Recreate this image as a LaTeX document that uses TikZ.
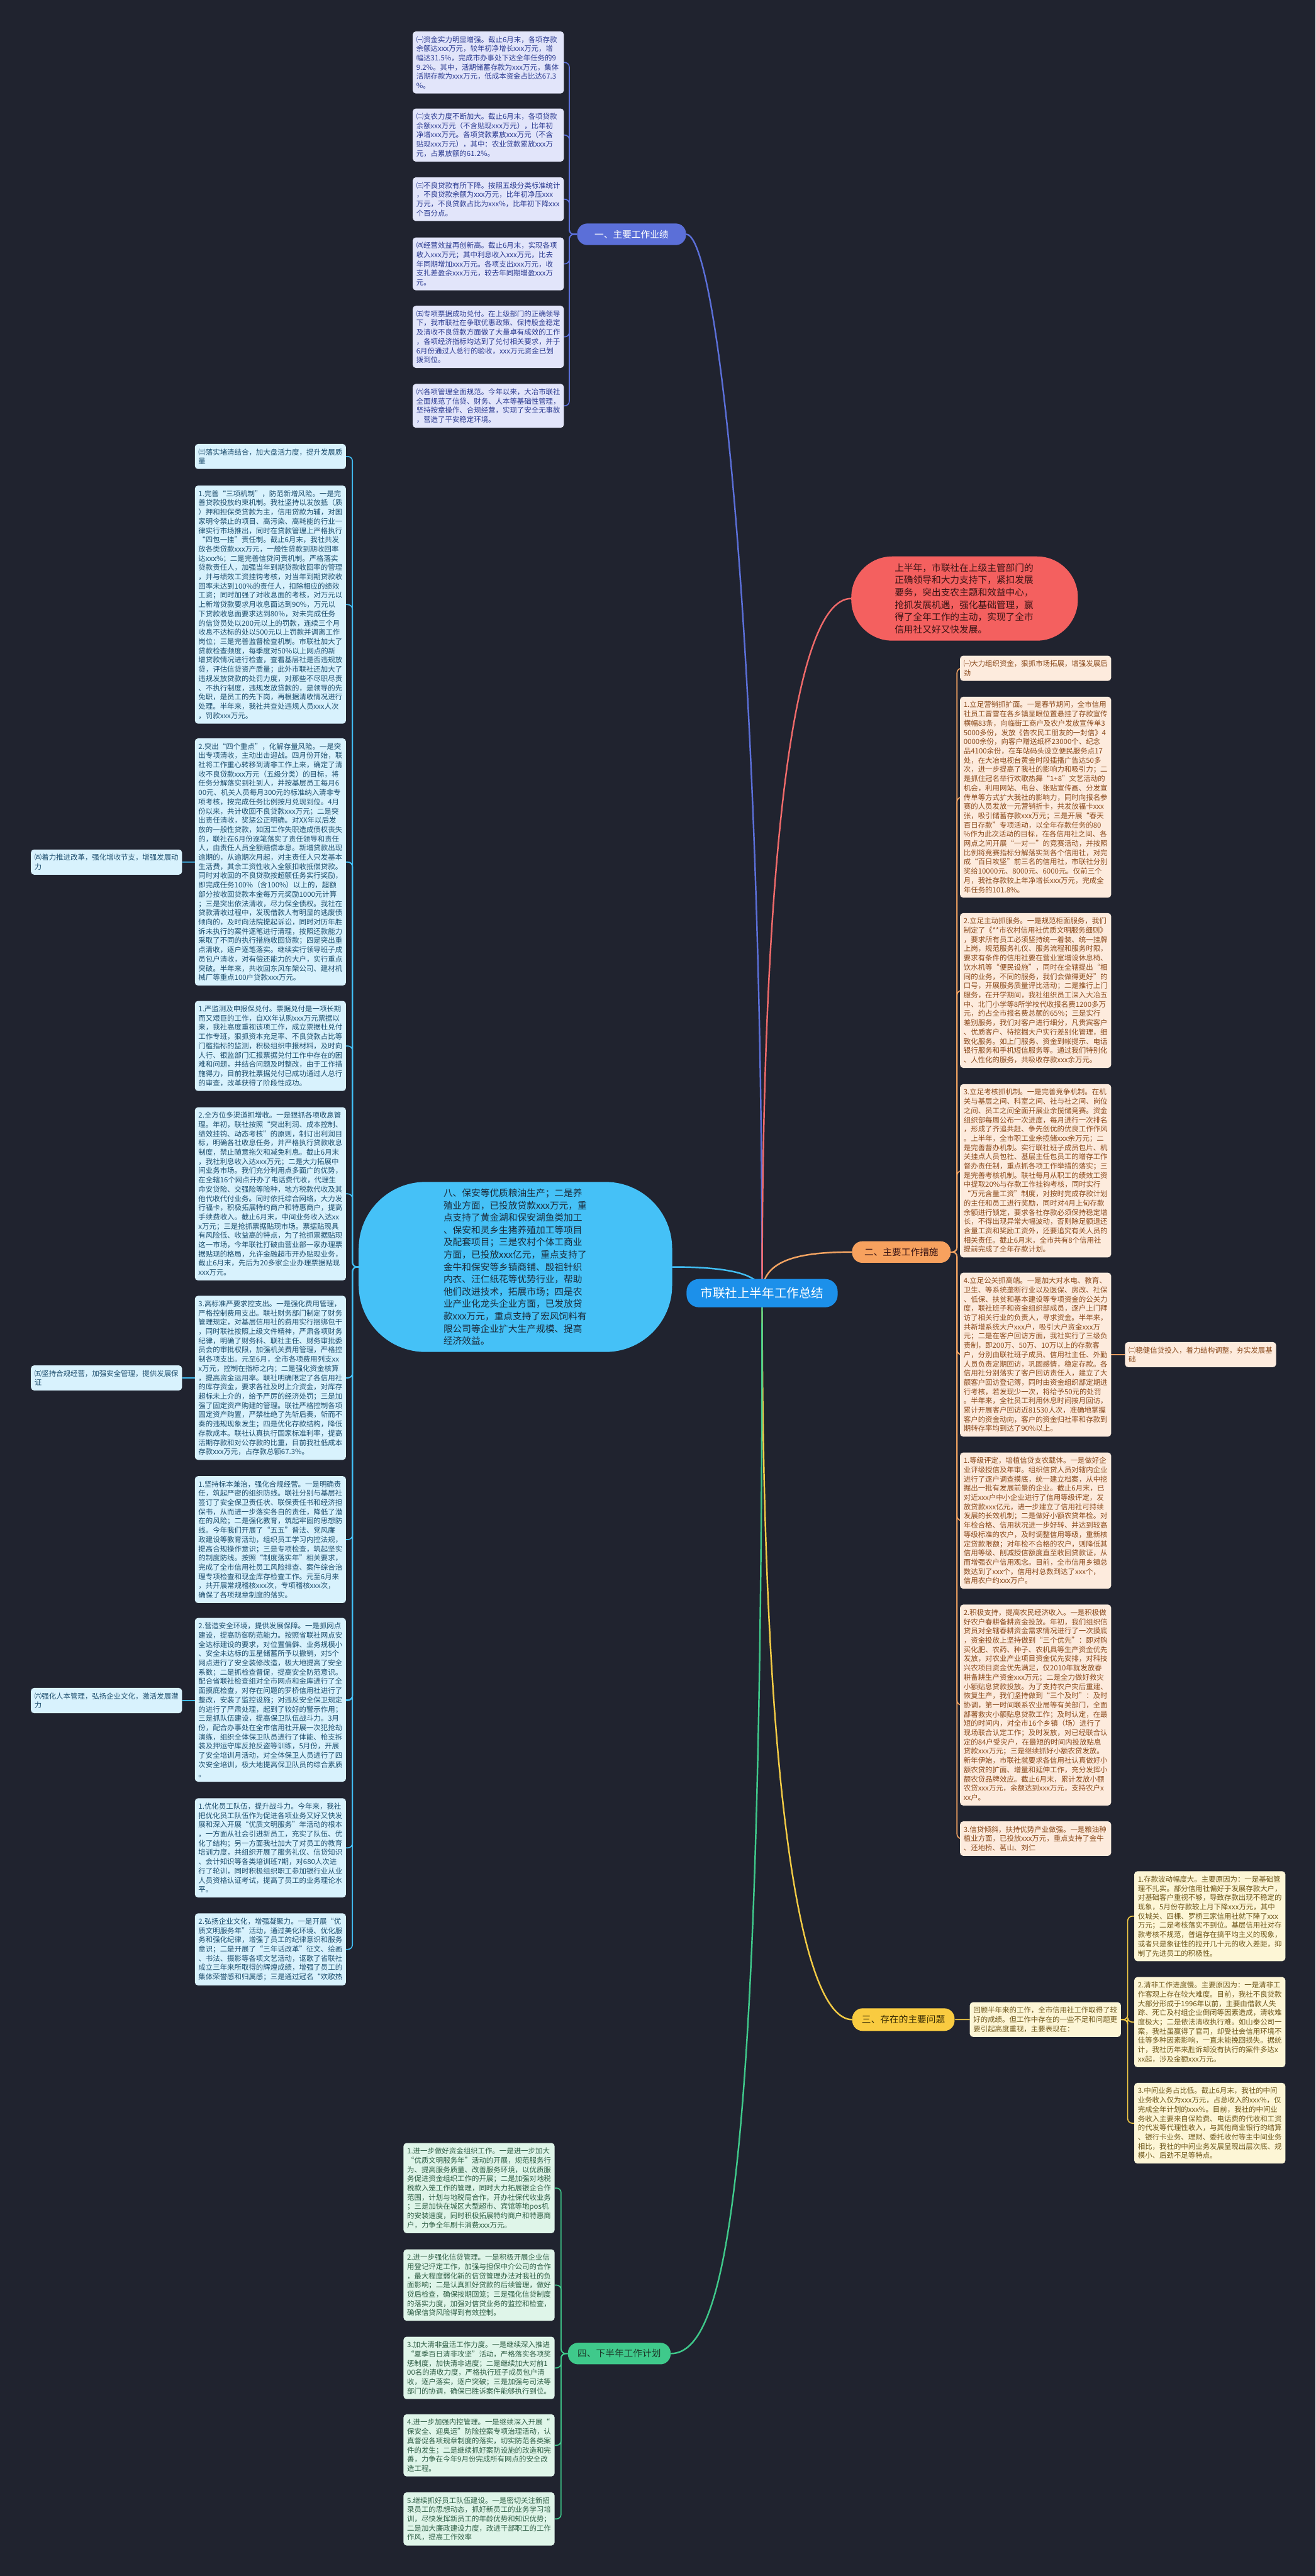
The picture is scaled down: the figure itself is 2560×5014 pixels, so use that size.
\documentclass[tikz,border=0pt]{standalone}
\usepackage{fontspec}
\setmainfont{Noto Sans CJK SC}
\pgfdeclarelayer{back}
\pgfdeclarelayer{bg}
\pgfsetlayers{back,bg,main}
\definecolor{bgc}{HTML}{20232F}
\definecolor{rootc}{HTML}{1C90EA}
\definecolor{pline}{HTML}{5B6FD8}
\definecolor{pfill}{HTML}{E2E5FA}
\definecolor{ptext}{HTML}{2A3990}
\definecolor{rline}{HTML}{F06A6A}
\definecolor{pinkc}{HTML}{F4605F}
\definecolor{pinkt}{HTML}{3A1414}
\definecolor{oline}{HTML}{F4A462}
\definecolor{obr}{HTML}{F7A15E}
\definecolor{ofill}{HTML}{FDEBDD}
\definecolor{otext}{HTML}{8A4A1C}
\definecolor{bline}{HTML}{41BEF4}
\definecolor{ellc}{HTML}{45C1F7}
\definecolor{ellt}{HTML}{1B2B3B}
\definecolor{lfill}{HTML}{D8F2FD}
\definecolor{ltext}{HTML}{1D4E6E}
\definecolor{yline}{HTML}{F3CB45}
\definecolor{ybr}{HTML}{F9CB40}
\definecolor{ybrt}{HTML}{3B2E05}
\definecolor{yfill}{HTML}{FDF6D6}
\definecolor{ytext}{HTML}{6E561A}
\definecolor{gline}{HTML}{3FC98B}
\definecolor{gbr}{HTML}{3FC98B}
\definecolor{gbrt}{HTML}{1D3A2A}
\definecolor{gfill}{HTML}{DFF5E9}
\definecolor{gtext}{HTML}{2F5E45}
\tikzset{
  base/.style={font=\fontsize{14}{18}\selectfont, align=left, text width=280pt, inner xsep=7pt, inner ysep=9pt, rounded corners=6pt, anchor=north west},
  pbox/.style={base, fill=pfill, text=ptext},
  lbox/.style={base, fill=lfill, text=ltext},
  obox/.style={base, fill=ofill, text=otext},
  ybox/.style={base, fill=yfill, text=ytext},
  gbox/.style={base, fill=gfill, text=gtext},
  branch/.style={font=\fontsize{18}{22}\selectfont, rounded corners=20pt, minimum height=42pt, inner xsep=12pt, anchor=center},
  rootcurve/.style={line width=3pt},
  pconn/.style={draw=pline, line width=2pt, rounded corners=9pt},
  lconn/.style={draw=bline, line width=2pt, rounded corners=9pt},
  oconn/.style={draw=oline, line width=2pt, rounded corners=9pt},
  yconn/.style={draw=yline, line width=2pt, rounded corners=9pt},
  gconn/.style={draw=gline, line width=2pt, rounded corners=9pt}
}
\begin{document}
\begin{tikzpicture}[x=1pt,y=-1pt]
\useasboundingbox (0,0) rectangle (2560,5014);
\begin{pgfonlayer}{back}
\fill[bgc] (0,0) rectangle (2560,5014);
\end{pgfonlayer}

% root and main branches
\node[fill=rootc, text=white, font=\fontsize{24}{28}\selectfont, rounded corners=24pt, minimum width=294pt, minimum height=55pt] (root) at (1483,2517) {市联社上半年工作总结};
\node[branch, fill=pline, text=white, minimum width=212pt] (b1) at (1229,456) {一、主要工作业绩};
\node[branch, fill=obr, text=pinkt, minimum width=192pt] (b2) at (1754,2437) {二、主要工作措施};
\node[branch, fill=ybr, text=ybrt, minimum width=199pt, minimum height=44pt] (b3) at (1758,3931) {三、存在的主要问题};
\node[branch, fill=gbr, text=gbrt, minimum width=200pt] (b4) at (1205,4581) {四、下半年工作计划};
\node[fill=pinkc, text=pinkt, font=\fontsize{18}{24}\selectfont, align=left, text width=272pt, rounded corners=80pt, minimum width=441pt, minimum height=164pt] (pink) at (1877,1165) {上半年，市联社在上级主管部门的\\正确领导和大力支持下，紧扣发展\\要务，突出支农主题和效益中心，\\抢抓发展机遇，强化基础管理，赢\\得了全年工作的主动，实现了全市\\信用社又好又快发展。};
\node[fill=ellc, text=ellt, font=\fontsize{18}{24}\selectfont, align=left, text width=280pt, rounded corners=130pt, minimum width=610pt, minimum height=331pt] (ell) at (1003,2466) {八、保安等优质粮油生产；二是养\\殖业方面，已投放贷款xxx万元，重\\点支持了黄金湖和保安湖鱼类加工\\、保安和灵乡生猪养殖加工等项目\\及配套项目；三是农村个体工商业\\方面，已投放xxx亿元，重点支持了\\金牛和保安等乡镇商铺、殷祖针织\\内衣、汪仁纸花等优势行业，帮助\\他们改进技术，拓展市场；四是农\\业产业化龙头企业方面，已发放贷\\款xxx万元，重点支持了宏风饲料有\\限公司等企业扩大生产规模、提高\\经济效益。};

% branch 1 boxes
\node[pbox] (P1) at (803,61) {㈠资金实力明显增强。截止6月末，各项存款\\余额达xxx万元，较年初净增长xxx万元，增\\幅达31.5\%，完成市办事处下达全年任务的9\\9.2\%。其中，活期储蓄存款为xxx万元，集体\\活期存款为xxx万元，低成本资金占比达67.3\\\%。};
\node[pbox] (P2) at (803,211) {㈡支农力度不断加大。截止6月末，各项贷款\\余额xxx万元（不含贴现xxx万元），比年初\\净增xxx万元。各项贷款累放xxx万元（不含\\贴现xxx万元），其中：农业贷款累放xxx万\\元，占累放额的61.2\%。};
\node[pbox] (P3) at (803,345) {㈢不良贷款有所下降。按照五级分类标准统计\\，不良贷款余额为xxx万元，比年初净压xxx\\万元，不良贷款占比为xxx\%，比年初下降xxx\\个百分点。};
\node[pbox] (P4) at (803,462) {㈣经营效益再创新高。截止6月末，实现各项\\收入xxx万元；其中利息收入xxx万元，比去\\年同期增加xxx万元。各项支出xxx万元，收\\支扎差盈余xxx万元，较去年同期增盈xxx万\\元。};
\node[pbox] (P5) at (803,595) {㈤专项票据成功兑付。在上级部门的正确领导\\下，我市联社在争取优惠政策、保持股金稳定\\及清收不良贷款方面做了大量卓有成效的工作\\，各项经济指标均达到了兑付相关要求，并于\\6月份通过人总行的验收，xxx万元资金已划\\拨到位。};
\node[pbox] (P6) at (803,747) {㈥各项管理全面规范。今年以来，大冶市联社\\全面规范了信贷、财务、人本等基础性管理，\\坚持按章操作、合规经营，实现了安全无事故\\，营造了平安稳定环境。};

% left column boxes
\node[lbox] (L0) at (379,864) {㈢落实堵清结合，加大盘活力度，提升发展质\\量};
\node[lbox] (L1) at (379,945) {1.完善“三项机制”，防范新增风险。一是完\\善贷款投放约束机制。我社坚持以发放抵（质\\）押和担保类贷款为主，信用贷款为辅，对国\\家明令禁止的项目、高污染、高耗能的行业一\\律实行市场推出，同时在贷款管理上严格执行\\“四包一挂”责任制。截止6月末，我社共发\\放各类贷款xxx万元，一般性贷款到期收回率\\达xxx\%；二是完善信贷问责机制。严格落实\\贷款责任人，加强当年到期贷款收回率的管理\\，并与绩效工资挂钩考核，对当年到期贷款收\\回率未达到100\%的责任人，扣除相应的绩效\\工资；同时加强了对收息面的考核，对万元以\\上新增贷款要求月收息面达到90\%，万元以\\下贷款收息面要求达到80\%，对未完成任务\\的信贷员处以200元以上的罚款，连续三个月\\收息不达标的处以500元以上罚款并调离工作\\岗位；三是完善监督检查机制。市联社加大了\\贷款检查频度，每季度对50\%以上网点的新\\增贷款情况进行检查，查看基层社是否违规放\\贷，评估信贷资产质量；此外市联社还加大了\\违规发放贷款的处罚力度，对那些不尽职尽责\\、不执行制度，违规发放贷款的，是领导的先\\免职，是员工的先下岗，再根据清收情况进行\\处理。半年来，我社共查处违规人员xxx人次\\，罚款xxx万元。};
\node[lbox] (L2) at (379,1437) {2.突出“四个重点”，化解存量风险。一是突\\出专项清收，主动出击迎战。四月份开始，联\\社将工作重心转移到清非工作上来，确定了清\\收不良贷款xxx万元（五级分类）的目标，将\\任务分解落实到社到人，并按基层员工每月6\\00元、机关人员每月300元的标准纳入清非专\\项考核，按完成任务比例按月兑现到位。4月\\份以来，共计收回不良贷款xxx万元；二是突\\出责任清收，奖惩公正明确。对XX年以后发\\放的一般性贷款，如因工作失职造成债权丧失\\的，联社在6月份逐笔落实了责任领导和责任\\人，由责任人员全额赔偿本息。新增贷款出现\\逾期的，从逾期次月起，对主责任人只发基本\\生活费，其余工资性收入全额扣收抵偿贷款。\\同时对收回的不良贷款按超额任务实行奖励，\\即完成任务100\%（含100\%）以上的，超额\\部分按收回贷款本金每万元奖励1000元计算\\；三是突出依法清收，尽力保全债权。我社在\\贷款清收过程中，发现借款人有明显的逃废债\\倾向的，及时向法院提起诉讼，同时对历年胜\\诉未执行的案件逐笔进行清理，按照还款能力\\采取了不同的执行措施收回贷款；四是突出重\\点清收，逐户逐笔落实。继续实行领导班子成\\员包户清收，对有偿还能力的大户，实行重点\\突破。半年来，共收回东风车架公司、建材机\\械厂等重点100户贷款xxx万元。};
\node[lbox, anchor=west] (lab4) at (60,1678) {㈣着力推进改革，强化增收节支，增强发展动\\力};
\node[lbox] (L3) at (379,1948) {1.严监测及申报保兑付。票据兑付是一项长期\\而又艰巨的工作，自XX年认购xxx万元票据以\\来，我社高度重视该项工作，成立票据杜兑付\\工作专班，狠抓资本充足率、不良贷款占比等\\门槛指标的监测，积极组织申报材料，及时向\\人行、银监部门汇报票据兑付工作中存在的困\\难和问题，并结合问题及时整改，由于工作措\\施得力，目前我社票据兑付已成功通过人总行\\的审查，改革获得了阶段性成功。};
\node[lbox] (L4) at (379,2155) {2.全方位多渠道抓增收。一是狠抓各项收息管\\理。年初，联社按照“突出利润、成本控制、\\绩效挂钩、动态考核”的原则，制订出利润目\\标，明确各社收息任务，并严格执行贷款收息\\制度，禁止随意拖欠和减免利息。截止6月末\\，我社利息收入达xxx万元；二是大力拓展中\\间业务市场。我们充分利用点多面广的优势，\\在全辖16个网点开办了电话费代收，代理生\\命安贷险、交强险等险种，地方税款代收及其\\他代收代付业务。同时依托综合网络，大力发\\行福卡，积极拓展特约商户和特惠商户，提高\\手续费收入。截止6月末，中间业务收入达xx\\x万元；三是抢抓票据贴现市场。票据贴现具\\有风险低、收益高的特点，为了抢抓票据贴现\\这一市场，今年联社打破由营业部一家办理票\\据贴现的格局，允许金融超市开办贴现业务，\\截止6月末，先后为20多家企业办理票据贴现\\xxx万元。};
\node[lbox] (L5) at (379,2522) {3.高标准严要求控支出。一是强化费用管理，\\严格控制费用支出。联社财务部门制定了财务\\管理规定，对基层信用社的费用实行捆绑包干\\，同时联社按照上级文件精神，严肃各项财务\\纪律，明确了财务科、联社主任、财务审批委\\员会的审批权限，加强机关费用管理，严格控\\制各项支出。元至6月，全市各项费用列支xx\\x万元，控制在指标之内；二是强化资金核算\\，提高资金运用率。联社明确限定了各信用社\\的库存资金，要求各社及时上介资金，对库存\\超标未上介的，给予严厉的经济处罚；三是加\\强了固定资产购建的管理。联社严格控制各项\\固定资产购置，严禁杜绝了先斩后奏，斩而不\\奏的违规现象发生；四是优化存款结构，降低\\存款成本。联社认真执行国家标准利率，提高\\活期存款和对公存款的比重，目前我社低成本\\存款xxx万元，占存款总额67.3\%。};
\node[lbox, anchor=west] (lab5) at (60,2682) {㈤坚持合规经营，加强安全管理，提供发展保\\证};
\node[lbox] (L6) at (379,2873) {1.坚持标本兼治，强化合规经营。一是明确责\\任，筑起严密的组织防线。联社分别与基层社\\签订了安全保卫责任状、联保责任书和经济担\\保书，从而进一步落实各自的责任，降低了潜\\在的风险；二是强化教育，筑起牢固的思想防\\线。今年我们开展了“五五”普法、党风廉\\政建设等教育活动，组织员工学习内控法规，\\提高合规操作意识；三是专项检查，筑起坚实\\的制度防线。按照“制度落实年”相关要求，\\完成了全市信用社员工风险排查、案件综合治\\理专项检查和现金库存检查工作。元至6月来\\，共开展常规稽核xxx次，专项稽核xxx次，\\确保了各项规章制度的落实。};
\node[lbox] (L7) at (379,3149) {2.营造安全环境，提供发展保障。一是抓网点\\建设，提高防御防范能力。按照省联社网点安\\全达标建设的要求，对位置偏僻、业务规模小\\、安全未达标的五星储蓄所予以撤销，对5个\\网点进行了安全装修改造，极大地提高了安全\\系数；二是抓检查督促，提高安全防范意识。\\配合省联社检查组对全市网点和金库进行了全\\面摸底检查，对存在问题的罗桥信用社进行了\\整改，安装了监控设施；对违反安全保卫规定\\的进行了严肃处理，起到了较好的警示作用；\\三是抓队伍建设，提高保卫队伍战斗力。3月\\份，配合办事处在全市信用社开展一次犯抢劫\\演练，组织全体保卫队员进行了体能、枪支拆\\装及押运守库反抢反盗等训练，5月份，开展\\了安全培训月活动，对全体保卫人员进行了四\\次安全培训，极大地提高保卫队员的综合素质\\。};
\node[lbox, anchor=west] (lab6) at (60,3310) {㈥强化人本管理，弘扬企业文化，激活发展潜\\力};
\node[lbox] (L8) at (379,3500) {1.优化员工队伍，提升战斗力。今年来，我社\\把优化员工队伍作为促进各项业务又好又快发\\展和深入开展“优质文明服务”年活动的根本\\，一方面从社会引进新员工，充实了队伍、优\\化了结构；另一方面我社加大了对员工的教育\\培训力度，共组织开展了服务礼仪、信贷知识\\、会计知识等各类培训班7期，对680人次进\\行了轮训，同时积极组织职工参加银行业从业\\人员资格认证考试，提高了员工的业务理论水\\平。};
\node[lbox] (L9) at (379,3724) {2.弘扬企业文化，增强凝聚力。一是开展“优\\质文明服务年”活动，通过美化环境、优化服\\务和强化纪律，增强了员工的纪律意识和服务\\意识；二是开展了“三年话改革”征文、绘画\\、书法、摄影等各项文艺活动，讴歌了省联社\\成立三年来所取得的辉煌成绩，增强了员工的\\集体荣誉感和归属感；三是通过冠名“欢歌热};

% orange column
\node[obox] (O0) at (1868,1276) {㈠大力组织资金，狠抓市场拓展，增强发展后\\劲};
\node[obox] (O1) at (1868,1356) {1.立足营销抓扩面。一是春节期间，全市信用\\社员工冒雪在各乡镇显眼位置悬挂了存款宣传\\横幅83条，向临街工商户及农户发放宣传单3\\5000多份，发放《告农民工朋友的一封信》4\\0000余份，向客户赠送纸杯23000个、纪念\\品4100余份，在车站码头设立便民服务点17\\处，在大冶电视台黄金时段插播广告达50多\\次，进一步提高了我社的影响力和吸引力；二\\是抓住冠名举行欢歌热舞“1+8”文艺活动的\\机会，利用网站、电台、张贴宣传画、分发宣\\传单等方式扩大我社的影响力，同时向报名参\\赛的人员发放一元营销折卡，共发放福卡xxx\\张，吸引储蓄存款xxx万元；三是开展“春天\\百日存款”专项活动，以全年存款任务的80\\\%作为此次活动的目标，在各信用社之间、各\\网点之间开展“一对一”的竞赛活动，并按照\\比例将竞赛指标分解落实到各个信用社，对完\\成“百日攻坚”前三名的信用社，市联社分别\\奖给10000元、8000元、6000元。仅前三个\\月，我社存款较上年净增长xxx万元，完成全\\年任务的101.8\%。};
\node[obox] (O2) at (1868,1777) {2.立足主动抓服务。一是规范柜面服务，我们\\制定了《**市农村信用社优质文明服务细则》\\，要求所有员工必须坚持统一着装、统一挂牌\\上岗，规范服务礼仪、服务流程和服务时限，\\要求有条件的信用社要在营业室增设休息椅、\\饮水机等“便民设施”，同时在全辖提出“相\\同的业务，不同的服务，我们会做得更好”的\\口号，开展服务质量评比活动；二是推行上门\\服务，在开学期间，我社组织员工深入大冶五\\中、北门小学等8所学校代收报名费1200多万\\元，约占全市报名费总额的65\%；三是实行\\差别服务，我们对客户进行细分，凡贵宾客户\\、优质客户、待挖掘大户实行差别化管理，细\\致化服务。如上门服务、资金到帐提示、电话\\银行服务和手机短信服务等。通过我们特别化\\、人性化的服务，共吸收存款xxx余万元。};
\node[obox] (O3) at (1868,2110) {3.立足考核抓机制。一是完善竞争机制。在机\\关与基层之间、科室之间、社与社之间、岗位\\之间、员工之间全面开展业余揽储竞赛。资金\\组织部每周公布一次进度，每月进行一次排名\\，形成了齐追共赶、争先创优的优良工作作风\\。上半年，全市职工业余揽储xxx余万元；二\\是完善督办机制。实行联社班子成员包片、机\\关挂点人员包社、基层主任包员工的增存工作\\督办责任制，重点抓各项工作举措的落实；三\\是完善考核机制。联社每月从职工的绩效工资\\中提取20\%与存款工作挂钩考核，同时实行\\“万元含量工资”制度，对按时完成存款计划\\的主任和员工进行奖励，同时对4月上旬存款\\余额进行锁定，要求各社存款必须保持稳定增\\长，不得出现异常大幅波动，否则除足额退还\\含量工资和奖励工资外，还要追究有关人员的\\相关责任。截止6月末，全市共有8个信用社\\提前完成了全年存款计划。};
\node[obox] (O4) at (1868,2477) {4.立足公关抓高端。一是加大对水电、教育、\\卫生、等系统垄断行业以及医保、房改、社保\\、低保、扶贫和基本建设等专项资金的公关力\\度，联社班子和资金组织部成员，逐户上门拜\\访了相关行业的负责人，寻求资金。半年来，\\共新增系统大户xxx户，吸引大户资金xxx万\\元；二是在客户回访方面，我社实行了三级负\\责制，即200万、50万、10万以上的存款客\\户，分别由联社班子成员、信用社主任、外勤\\人员负责定期回访，巩固感情，稳定存款。各\\信用社分别落实了客户回访责任人，建立了大\\额客户回访登记簿，同时由资金组织部定期进\\行考核，若发现少一次，将给予50元的处罚\\。半年来，全社员工利用休息时间按月回访，\\累计开展客户回访近81530人次，准确地掌握\\客户的资金动向，客户的资金归社率和存款到\\期转存率均到达了90\%以上。};
\node[obox] (O5) at (2189,2612) {㈡稳健信贷投入，着力结构调整，夯实发展基\\础};
\node[obox] (O6) at (1868,2827) {1.等级评定，培植信贷支农载体。一是做好企\\业评级授信及年审。组织信贷人员对辖内企业\\进行了逐户调查摸底，统一建立档案，从中挖\\掘出一批有发展前景的企业。截止6月末，已\\对近xxx户中小企业进行了信用等级评定，发\\放贷款xxx亿元，进一步建立了信用社可持续\\发展的长效机制；二是做好小额农贷年检。对\\年检合格、信用状况进一步好转、并达到较高\\等级标准的农户，及时调整信用等级，重新核\\定贷款限额；对年检不合格的农户，则降低其\\信用等级、削减授信额度直至收回贷款证，从\\而增强农户信用观念。目前，全市信用乡镇总\\数达到了xxx个，信用村总数到达了xxx个，\\信用农户约xxx万户。};
\node[obox] (O7) at (1868,3123) {2.积极支持，提高农民经济收入。一是积极做\\好农户春耕备耕资金投放。年初，我们组织信\\贷员对全辖春耕资金需求情况进行了一次摸底\\，资金投放上坚持做到“三个优先”：即对购\\买化肥、农药、种子、农机具等生产资金优先\\发放，对农业产业项目资金优先安排，对科技\\兴农项目资金优先满足，仅2010年就发放春\\耕备耕生产资金xxx万元；二是全力做好救灾\\小额贴息贷款投放。为了支持农户灾后重建、\\恢复生产，我们坚持做到“三个及时”：及时\\协调，第一时间联系农业局等有关部门，全面\\部署救灾小额贴息贷款工作；及时认定，在最\\短的时间内，对全市16个乡镇（场）进行了\\现场联合认定工作；及时发放，对已经联合认\\定的84户受灾户，在最短的时间内投放贴息\\贷款xxx万元；三是继续抓好小额农贷发放。\\新年伊始，市联社就要求各信用社认真做好小\\额农贷的扩面、增量和延伸工作，充分发挥小\\额农贷品牌效应。截止6月末，累计发放小额\\农贷xxx万元，余额达到xxx万元，支持农户x\\xx户。};
\node[obox] (O8) at (1868,3545) {3.信贷倾斜，扶持优势产业做强。一是粮油种\\植业方面，已投放xxx万元，重点支持了金牛\\、还地桥、茗山、刘仁};

% yellow
\node[ybox] (Y0) at (1887,3897) {回顾半年来的工作，全市信用社工作取得了较\\好的成绩。但工作中存在的一些不足和问题更\\要引起高度重视，主要表现在：};
\node[ybox] (Y1) at (2207,3642) {1.存款波动幅度大。主要原因为：一是基础管\\理不扎实。部分信用社偏好于发展存款大户，\\对基础客户重视不够，导致存款出现不稳定的\\现象，5月份存款较上月下降xxx万元，其中\\仅城关、四棵、罗桥三家信用社就下降了xxx\\万元；二是考核落实不到位。基层信用社对存\\款考核不规范，普遍存在搞平均主义的现象，\\或者只是象征性的拉开几十元的收入差距，抑\\制了先进员工的积极性。};
\node[ybox] (Y2) at (2207,3848) {2.清非工作进度慢。主要原因为：一是清非工\\作客观上存在较大难度。目前，我社不良贷款\\大部分形成于1996年以前，主要由借款人失\\踪、死亡及村组企业倒闭等因素造成，清收难\\度极大；二是依法清收执行难。如山泰公司一\\案，我社虽赢得了官司，却受社会信用环境不\\佳等多种因素影响，一直未能挽回损失。据统\\计，我社历年来胜诉却没有执行的案件多达x\\xx起，涉及金额xxx万元。};
\node[ybox] (Y3) at (2207,4054) {3.中间业务占比低。截止6月末，我社的中间\\业务收入仅为xxx万元，占总收入的xxx\%，仅\\完成全年计划的xxx\%。目前，我社的中间业\\务收入主要来自保险费、电话费的代收和工资\\的代发等代理性收入，与其他商业银行的结算\\、银行卡业务、理财、委托收付等主中间业务\\相比，我社的中间业务发展呈现出层次底、规\\模小、后劲不足等特点。};

% green
\node[gbox] (G1) at (785,4171) {1.进一步做好资金组织工作。一是进一步加大\\“优质文明服务年”活动的开展，规范服务行\\为、提高服务质量、改善服务环境，以优质服\\务促进资金组织工作的开展；二是加强对地税\\税款入笼工作的管理，同时大力拓展银企合作\\范围，计划与地税局合作，开办社保代收业务\\；三是加快在城区大型超市、宾馆等地pos机\\的安装速度，同时积极拓展特约商户和特惠商\\户，力争全年刷卡消费xxx万元。};
\node[gbox] (G2) at (785,4378) {2.进一步强化信贷管理。一是积极开展企业信\\用登记评定工作，加强与担保中介公司的合作\\，最大程度弱化新的信贷管理办法对我社的负\\面影响；二是认真抓好贷款的后续管理，做好\\贷后检查，确保按期回笼；三是强化信贷制度\\的落实力度，加强对信贷业务的监控和检查，\\确保信贷风险得到有效控制。};
\node[gbox] (G3) at (785,4548) {3.加大清非盘活工作力度。一是继续深入推进\\“夏季百日清非攻坚”活动，严格落实各项奖\\惩制度，加快清非进度；二是继续加大对前1\\00名的清收力度，严格执行班子成员包户清\\收，逐户落实，逐户突破；三是加强与司法等\\部门的协调，确保已胜诉案件能够执行到位。};
\node[gbox] (G4) at (785,4699) {4.进一步加强内控管理。一是继续深入开展“\\保安全、迎奥运”防险控案专项治理活动，认\\真督促各项规章制度的落实，切实防范各类案\\件的发生；二是继续抓好案防设施的改造和完\\善，力争在今年9月份完成所有网点的安全改\\造工程。};
\node[gbox] (G5) at (785,4851) {5.继续抓好员工队伍建设。一是密切关注新招\\录员工的思想动态，抓好新员工的业务学习培\\训，尽快发挥新员工的年龄优势和知识优势；\\二是加大廉政建设力度，改进干部职工的工作\\作风，提高工作效率};

% connectors
\begin{pgfonlayer}{bg}
\draw[rootcurve, pline] (root.center) .. controls (1483,1300) and (1400,456) .. (b1.east);
\draw[rootcurve, rline] (root.center) .. controls (1483,1700) and (1540,1165) .. (pink.west);
\draw[rootcurve, oline] (root.center) .. controls (1483,2450) and (1560,2437) .. (b2.west);
\draw[rootcurve, bline] (root.center) .. controls (1483,2480) and (1420,2466) .. (ell.east);
\draw[rootcurve, yline] (root.center) .. controls (1483,3500) and (1560,3931) .. (b3.west);
\draw[rootcurve, gline] (root.center) .. controls (1483,4200) and (1420,4581) .. (b4.east);
\foreach \c in {P1,P2,P3,P4,P5,P6} \draw[pconn] (b1.west) -- ++(-15,0) |- (\c.east);
\foreach \c in {L0,L1,L2,L3,L4,L5,L6,L7,L8,L9,lab4,lab5,lab6} \draw[lconn] (ell.west) -- ++(-12,0) |- (\c.east);
\foreach \c in {O0,O1,O2,O3,O4,O5,O6,O7,O8} \draw[oconn] (b2.east) -- ++(12,0) |- (\c.west);
\draw[yconn] (b3.east) -- (Y0.west);
\foreach \c in {Y1,Y2,Y3} \draw[yconn] (Y0.east) -- ++(13,0) |- (\c.west);
\foreach \c in {G1,G2,G3,G4,G5} \draw[gconn] (b4.west) -- ++(-13,0) |- (\c.east);
\end{pgfonlayer}
\end{tikzpicture}
\end{document}
